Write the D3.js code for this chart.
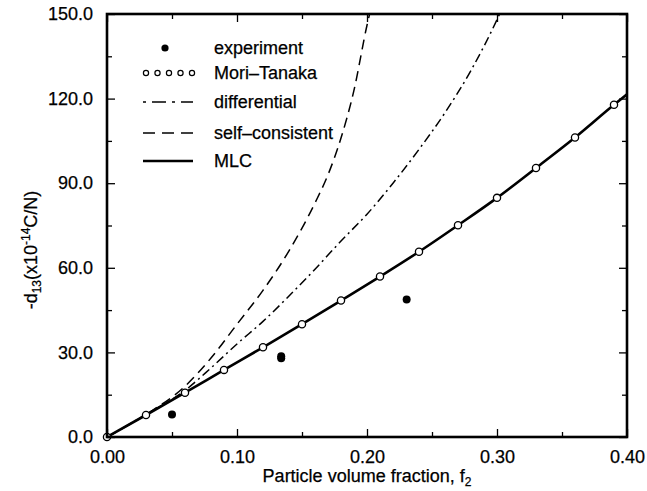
<!DOCTYPE html>
<html>
<head>
<meta charset="utf-8">
<script src="https://cdn.jsdelivr.net/npm/d3@7"></script>
<style>
  body { margin: 0; background: #fff; }
  svg { display: block; font-family: "Liberation Sans", Arial, sans-serif; }
  text { stroke: #000; stroke-width: 0.25px; }
</style>
</head>
<body>
<svg id="chart" width="647" height="491"></svg>
<script>
// volume fraction grid for Mori-Tanaka markers / MLC line
const mtF = [0, 0.03, 0.06, 0.09, 0.12, 0.15, 0.18, 0.21, 0.24, 0.27, 0.30, 0.33, 0.36, 0.39];
const mtD = [0, 7.8, 15.7, 23.8, 31.8, 40.0, 48.4, 56.9, 65.7, 75.1, 84.8, 95.4, 106.2, 117.8];

const mlcF = [0, 0.03, 0.06, 0.09, 0.12, 0.15, 0.18, 0.21, 0.24, 0.27, 0.30, 0.33, 0.36, 0.39, 0.40];
const mlcD = [0, 7.8, 15.7, 23.8, 31.8, 40.0, 48.4, 56.9, 65.7, 75.1, 84.8, 95.4, 106.2, 117.8, 121.5];

const difF = [0, 0.03, 0.06, 0.08, 0.10, 0.12, 0.14, 0.16, 0.18, 0.20, 0.22, 0.24, 0.26, 0.28, 0.30, 0.302];
const difD = [0, 8, 16.5, 24.5, 33, 41, 50, 59.5, 69.5, 79, 90, 102, 115, 130, 148, 150];

const scF = [0, 0.03, 0.06, 0.08, 0.10, 0.12, 0.14, 0.16, 0.17, 0.18, 0.19, 0.20, 0.202];
const scD = [0, 8, 18, 28, 40, 52, 66, 83, 93, 106, 123, 146, 150];

const expF = [0.05, 0.134, 0.134, 0.2305];
const expD = [8.0, 27.9, 28.6, 48.8];

const xTicks = [0, 0.1, 0.2, 0.3, 0.4];
const yTicks = [0, 30, 60, 90, 120, 150];

const legendItems = ["experiment", "Mori\u2013Tanaka", "differential", "self\u2013consistent", "MLC"];

const svg = d3.select("#chart");
const pL = 107, pR = 627, pT = 14, pB = 437;
const fs = 18;

const x = d3.scaleLinear().domain([0, 0.4]).range([pL, pR]);
const y = d3.scaleLinear().domain([0, 150]).range([pB, pT]);

svg.append("defs").append("clipPath").attr("id", "plot")
  .append("rect").attr("x", pL).attr("y", pT).attr("width", pR - pL).attr("height", pB - pT);

const line = d3.line().x(d => x(d[0])).y(d => y(d[1])).curve(d3.curveMonotoneX);
const zip = (a, b) => a.map((v, i) => [v, b[i]]);

const plot = svg.append("g").attr("clip-path", "url(#plot)");

plot.append("path").datum(zip(scF, scD)).attr("d", line)
  .attr("fill", "none").attr("stroke", "#000").attr("stroke-width", 1.5)
  .attr("stroke-dasharray", "10,6");

plot.append("path").datum(zip(difF, difD)).attr("d", line)
  .attr("fill", "none").attr("stroke", "#000").attr("stroke-width", 1.5)
  .attr("stroke-dasharray", "9,4,2,4");

plot.append("path").datum(zip(mlcF, mlcD)).attr("d", line)
  .attr("fill", "none").attr("stroke", "#000").attr("stroke-width", 2.6);

svg.append("g").selectAll("circle").data(zip(mtF, mtD)).join("circle")
  .attr("cx", d => x(d[0])).attr("cy", d => y(d[1])).attr("r", 3.6)
  .attr("fill", "#fff").attr("stroke", "#000").attr("stroke-width", 1.3);

svg.append("g").selectAll("circle").data(zip(expF, expD)).join("circle")
  .attr("cx", d => x(d[0])).attr("cy", d => y(d[1])).attr("r", 4)
  .attr("fill", "#000");

// axes with inward ticks on all four sides
const axes = svg.append("g");
const bottomAxis = d3.axisBottom(x).tickValues(xTicks).tickFormat(d3.format(".2f")).tickSize(-8).tickPadding(13);
const leftAxis = d3.axisLeft(y).tickValues(yTicks).tickFormat(d3.format(".1f")).tickSize(-8).tickPadding(14);

axes.append("g").attr("transform", `translate(0,${pB})`).call(bottomAxis);
axes.append("g").attr("transform", `translate(${pL},0)`).call(leftAxis);
axes.append("g").attr("transform", `translate(0,${pT})`)
  .call(d3.axisTop(x).tickValues(xTicks).tickSize(-8).tickFormat(""));
axes.append("g").attr("transform", `translate(${pR},0)`)
  .call(d3.axisRight(y).tickValues(yTicks).tickSize(-8).tickFormat(""));

const minorX = [0.05, 0.15, 0.25, 0.35];
const minorY = [15, 45, 75, 105, 135];
axes.append("g").attr("transform", `translate(0,${pB})`)
  .call(d3.axisBottom(x).tickValues(minorX).tickSize(-5).tickFormat(""));
axes.append("g").attr("transform", `translate(0,${pT})`)
  .call(d3.axisTop(x).tickValues(minorX).tickSize(-5).tickFormat(""));
axes.append("g").attr("transform", `translate(${pL},0)`)
  .call(d3.axisLeft(y).tickValues(minorY).tickSize(-5).tickFormat(""));
axes.append("g").attr("transform", `translate(${pR},0)`)
  .call(d3.axisRight(y).tickValues(minorY).tickSize(-5).tickFormat(""));

axes.selectAll(".domain").remove();
axes.selectAll(".tick line").attr("stroke", "#000").attr("stroke-width", 1.3);
axes.selectAll(".tick text").attr("font-size", fs).attr("fill", "#000")
  .attr("font-family", "'Liberation Sans', Arial, sans-serif");

svg.append("rect").attr("x", pL).attr("y", pT).attr("width", pR - pL).attr("height", pB - pT)
  .attr("fill", "none").attr("stroke", "#000").attr("stroke-width", 2.6);

// axis titles
const xt = svg.append("text").attr("x", (pL + pR) / 2).attr("y", 482)
  .attr("text-anchor", "middle").attr("font-size", fs);
xt.append("tspan").text("Particle volume fraction, f");
xt.append("tspan").attr("font-size", 12).attr("dy", 4).text("2");

const yt = svg.append("text").attr("transform", "translate(37,250) rotate(-90)")
  .attr("text-anchor", "middle").attr("font-size", fs);
yt.append("tspan").text("-d");
yt.append("tspan").attr("font-size", 12).attr("dy", 4).text("13");
yt.append("tspan").attr("dy", -4).text("(x10");
yt.append("tspan").attr("font-size", 12).attr("dy", -7).text("-14");
yt.append("tspan").attr("dy", 7).text("C/N)");

// legend
const legY = [48, 73, 102, 133, 161];
const lx0 = 143, lx1 = 193, tx = 214;
const leg = svg.append("g");
legendItems.forEach((name, i) => {
  leg.append("text").attr("x", tx).attr("y", legY[i] + 6).attr("font-size", fs).text(name);
});
leg.append("circle").attr("cx", 165).attr("cy", legY[0]).attr("r", 3.6).attr("fill", "#000");
leg.selectAll(".mt").data(d3.range(5)).join("circle").attr("class", "mt")
  .attr("cx", d => 146 + d * 11.5).attr("cy", legY[1]).attr("r", 2.6)
  .attr("fill", "#fff").attr("stroke", "#000").attr("stroke-width", 1.2);
leg.append("line").attr("x1", lx0).attr("x2", lx1).attr("y1", legY[2]).attr("y2", legY[2])
  .attr("stroke", "#000").attr("stroke-width", 1.4).attr("stroke-dasharray", "3,6,14,6");
leg.append("line").attr("x1", lx0).attr("x2", lx1).attr("y1", legY[3]).attr("y2", legY[3])
  .attr("stroke", "#000").attr("stroke-width", 1.4).attr("stroke-dasharray", "12,7");
leg.append("line").attr("x1", lx0).attr("x2", lx1).attr("y1", legY[4]).attr("y2", legY[4])
  .attr("stroke", "#000").attr("stroke-width", 2.6);
</script>
</body>
</html>
